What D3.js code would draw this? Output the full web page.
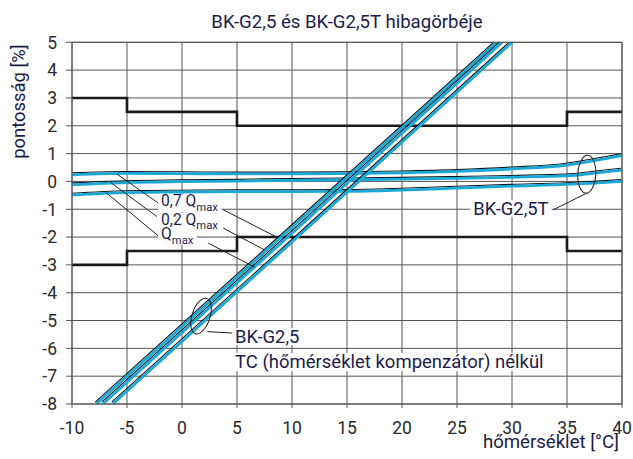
<!DOCTYPE html>
<html><head><meta charset="utf-8">
<script src="https://cdn.jsdelivr.net/npm/d3@7"></script>
<style>
body{margin:0;background:#fff;}
svg{display:block;font-family:Roboto,"Open Sans",sans-serif;}
</style></head>
<body><svg id="c" width="633" height="459"></svg>
<script>
// ---- data ----
const title = "BK-G2,5 és BK-G2,5T hibagörbéje";
const xLabel = "hőmérséklet [°C]";
const yLabel = "pontosság [%]";
const xTicks = [-10,-5,0,5,10,15,20,25,30,35,40];
const yTicks = [5,4,3,2,1,0,-1,-2,-3,-4,-5,-6,-7,-8];

// permissible error limits (step after)
const limitT = [-10,-5,5,35,40];
const upperLimit = [3,2.5,2,2.5,2.5];
const lowerLimit = [-3,-2.5,-2,-2.5,-2.5];

// BK-G2,5 without temperature compensation (three flows)
const diagT1 = [-7.8,10,28.6];  const diagV1 = [-8,-1.65,5];
const diagT2 = [-7.2,10,29.1];  const diagV2 = [-8,-1.86,5];
const diagT3 = [-6.3,10,30.0];  const diagV3 = [-8,-2.18,5];

// BK-G2,5T (temperature compensated) curves
const tempT = [-10,-5,0,5,10,15,20,25,30,35,37.5,40];
const t07 = [0.24,0.29,0.28,0.27,0.27,0.28,0.31,0.36,0.45,0.59,0.75,0.93];
const t02 = [-0.12,-0.04,-0.01,0.01,0.04,0.06,0.08,0.11,0.15,0.20,0.30,0.41];
const tQm = [-0.49,-0.40,-0.38,-0.37,-0.37,-0.36,-0.31,-0.24,-0.17,-0.11,-0.06,0.0];

// ---- scales ----
const svg = d3.select("#c");
const x = d3.scaleLinear().domain([-10,40]).range([72,622]);
const y = d3.scaleLinear().domain([-8,5]).range([404,42.3]);
const navy = "#1c1c4a";
const cyan = "#1aa8d8";
const grid = "#555";

svg.append("defs").append("clipPath").attr("id","clip")
  .append("rect").attr("x",x(-10)).attr("y",y(5)).attr("width",x(40)-x(-10)).attr("height",y(-8)-y(5));

// grid
const g = svg.append("g");
g.selectAll(".gx").data(xTicks).join("line")
  .attr("x1",d=>x(d)).attr("x2",d=>x(d)).attr("y1",y(5)).attr("y2",y(-8)+4)
  .attr("stroke",grid).attr("stroke-width",1);
g.selectAll(".gy").data(yTicks).join("line")
  .attr("x1",x(-10)-6).attr("x2",x(40)).attr("y1",d=>y(d)).attr("y2",d=>y(d))
  .attr("stroke",grid).attr("stroke-width",1);

// tick labels
svg.append("g").selectAll("text").data(yTicks).join("text")
  .attr("x",x(-10)-15).attr("y",d=>y(d)).attr("dy","0.36em")
  .attr("text-anchor","end").attr("font-size",17.5).attr("fill","#2a2a2a")
  .text(d=>d);
svg.append("g").selectAll("text").data(xTicks).join("text")
  .attr("x",d=>x(d)).attr("y",y(-8)+30)
  .attr("text-anchor","middle").attr("font-size",17.5).attr("fill","#2a2a2a")
  .text(d=>d);

// titles
svg.append("text").attr("x",(x(-10)+x(40))/2).attr("y",28).attr("text-anchor","middle")
  .attr("font-size",18.6).attr("fill",navy).text(title);
svg.append("text").attr("transform",`translate(25,101.5) rotate(-90)`)
  .attr("text-anchor","middle").attr("font-size",18.4).attr("fill",navy).text(yLabel);
svg.append("text").attr("x",x(40)-3).attr("y",448).attr("text-anchor","end")
  .attr("font-size",18.6).attr("fill",navy).text(xLabel);

// limits
const stepLine = d3.line().x(d=>x(d[0])).y(d=>y(d[1])).curve(d3.curveStepAfter);
[upperLimit,lowerLimit].forEach(arr=>{
  svg.append("path").datum(limitT.map((t,i)=>[t,arr[i]]))
    .attr("d",stepLine).attr("fill","none").attr("stroke","#1a1a1a").attr("stroke-width",2.6);
});

// curves: black thin line + cyan line
const line = d3.line().x(d=>x(d[0])).y(d=>y(d[1]));
const curveLayer = svg.append("g").attr("clip-path","url(#clip)");
function drawCurve(ts, vs, curve){
  const data = ts.map((t,i)=>[t,vs[i]]);
  const l = curve ? d3.line().x(d=>x(d[0])).y(d=>y(d[1])).curve(curve) : line;
  curveLayer.append("path").datum(data).attr("d",l).attr("fill","none")
    .attr("stroke","#111").attr("stroke-width",1.1).attr("transform","translate(-1,-1.8)");
  curveLayer.append("path").datum(data).attr("d",l).attr("fill","none")
    .attr("stroke",cyan).attr("stroke-width",2.8);
}
[t07,t02,tQm].forEach(v=>drawCurve(tempT,v,d3.curveMonotoneX));
drawCurve(diagT1,diagV1); drawCurve(diagT2,diagV2); drawCurve(diagT3,diagV3);

// annotation leaders (data coords)
const leaders = [
  [[-5.94,0.27],[-2.15,-0.78]],
  [[-6.48,-0.04],[-2.3,-1.26]],
  [[-6.91,-0.40],[-2.15,-1.96]],
  [[3.75,-1.02],[8.6,-2.0]],
  [[3.75,-1.68],[7.5,-2.46]],
  [[2.39,-2.22],[6.6,-3.08]],
  [[33.75,-1.02],[36.8,-0.42]],
  [[2.3,-5.4],[4.6,-5.45]]
];
svg.append("g").selectAll("line").data(leaders).join("line")
  .attr("x1",d=>x(d[0][0])).attr("y1",d=>y(d[0][1]))
  .attr("x2",d=>x(d[1][0])).attr("y2",d=>y(d[1][1]))
  .attr("stroke","#222").attr("stroke-width",1);

// ellipses
svg.append("ellipse").attr("cx",x(1.73)).attr("cy",y(-4.84)).attr("rx",9).attr("ry",18.5)
  .attr("transform",`rotate(18,${x(1.73)},${y(-4.84)})`)
  .attr("fill","none").attr("stroke","#222").attr("stroke-width",1);
svg.append("ellipse").attr("cx",x(36.8)).attr("cy",y(0.26)).attr("rx",9).attr("ry",19)
  .attr("transform",`rotate(3,${x(36.8)},${y(0.26)})`)
  .attr("fill","none").attr("stroke","#222").attr("stroke-width",1);

// labels with white background
const bgLayer = svg.append("g");
const labelLayer = svg.append("g");
function label(t,v,main,sub,size){
  const txt = labelLayer.append("text").attr("x",x(t)).attr("y",y(v)).attr("font-size",size).attr("fill",navy);
  txt.append("tspan").text(main);
  if(sub){ txt.append("tspan").attr("dy",4.5).attr("font-size",size*0.72).text(sub); }
  const bb = txt.node().getBBox();
  bgLayer.append("rect").attr("x",bb.x-3).attr("y",bb.y+2).attr("width",bb.width+6).attr("height",bb.height-4).attr("fill","#fff");
}
label(-1.9,-0.9,"0,7 Q","max",15.6);
label(-1.9,-1.56,"0,2 Q","max",15.6);
label(-1.9,-2.07,"Q","max",15.6);
label(26.48,-1.2,"BK-G2,5T",null,18.4);
label(4.82,-5.81,"BK-G2,5",null,18.4);
label(4.82,-6.71,"TC (hőmérséklet kompenzátor) nélkül",null,18.5);

// frame
svg.append("rect").attr("x",x(-10)).attr("y",y(5)).attr("width",x(40)-x(-10)).attr("height",y(-8)-y(5))
  .attr("fill","none").attr("stroke",grid).attr("stroke-width",1);
</script></body></html>
